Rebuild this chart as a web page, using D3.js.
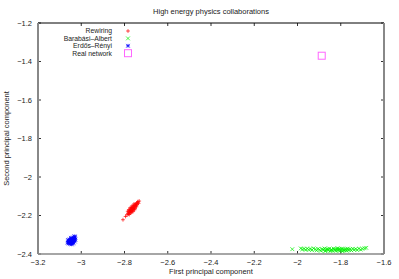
<!DOCTYPE html>
<html>
<head>
<meta charset="utf-8">
<script src="https://cdn.jsdelivr.net/npm/d3@7"></script>
<style>
  body { margin: 0; background: #fff; }
  text { font-family: "Liberation Sans", Arial, sans-serif; font-size: 7.5px; fill: #222; }
  .legend text { font-size: 6.8px; }
</style>
</head>
<body>
<script>
// Data
const xTicks = [-3.2, -3, -2.8, -2.6, -2.4, -2.2, -2, -1.8, -1.6];
const yTicks = [-1.2, -1.4, -1.6, -1.8, -2, -2.2, -2.4];
const seriesNames = ["Rewiring", "Barabási–Albert", "Erdős–Rényi", "Real network"];

const rewiring = [
  [-2.807, -2.222], [-2.795, -2.205], [-2.788, -2.196], [-2.784, -2.188], [-2.781, -2.192],
  [-2.779, -2.181], [-2.777, -2.175], [-2.775, -2.185], [-2.773, -2.170], [-2.772, -2.178],
  [-2.770, -2.165], [-2.769, -2.172], [-2.768, -2.160], [-2.767, -2.182], [-2.766, -2.168],
  [-2.764, -2.158], [-2.763, -2.175], [-2.762, -2.163], [-2.760, -2.170], [-2.759, -2.152],
  [-2.758, -2.160], [-2.757, -2.166], [-2.755, -2.148], [-2.754, -2.157], [-2.752, -2.163],
  [-2.751, -2.145], [-2.750, -2.152], [-2.748, -2.140], [-2.746, -2.148], [-2.744, -2.136],
  [-2.742, -2.143], [-2.740, -2.133], [-2.738, -2.128], [-2.735, -2.137], [-2.732, -2.125],
  [-2.778, -2.195], [-2.774, -2.160], [-2.761, -2.180], [-2.756, -2.140], [-2.771, -2.187],
  [-2.785, -2.178], [-2.753, -2.170], [-2.745, -2.155], [-2.765, -2.150], [-2.780, -2.170]
];

const barabasi = [
  [-2.024, -2.375], [-1.985, -2.371], [-1.978, -2.376], [-1.970, -2.373], [-1.962, -2.378],
  [-1.955, -2.372], [-1.948, -2.377], [-1.940, -2.374], [-1.933, -2.379], [-1.926, -2.371],
  [-1.918, -2.376], [-1.911, -2.381], [-1.905, -2.373], [-1.898, -2.378], [-1.892, -2.383],
  [-1.886, -2.374], [-1.880, -2.379], [-1.875, -2.371], [-1.869, -2.382], [-1.864, -2.376],
  [-1.858, -2.380], [-1.853, -2.373], [-1.848, -2.385], [-1.843, -2.377], [-1.838, -2.381],
  [-1.833, -2.372], [-1.828, -2.379], [-1.823, -2.384], [-1.818, -2.375], [-1.813, -2.380],
  [-1.808, -2.373], [-1.803, -2.382], [-1.798, -2.377], [-1.793, -2.385], [-1.788, -2.374],
  [-1.783, -2.380], [-1.778, -2.376], [-1.773, -2.383], [-1.768, -2.372], [-1.763, -2.379],
  [-1.757, -2.375], [-1.751, -2.381], [-1.745, -2.373], [-1.738, -2.378], [-1.731, -2.374],
  [-1.724, -2.379], [-1.716, -2.372], [-1.708, -2.377], [-1.700, -2.373], [-1.690, -2.370],
  [-1.682, -2.368], [-1.861, -2.374], [-1.845, -2.379], [-1.826, -2.376], [-1.806, -2.378],
  [-1.786, -2.381], [-1.771, -2.377], [-1.872, -2.385], [-1.815, -2.370], [-1.795, -2.372]
];

const erdos = [
  [-3.063, -2.342], [-3.060, -2.336], [-3.058, -2.345], [-3.057, -2.330], [-3.055, -2.339],
  [-3.053, -2.347], [-3.052, -2.333], [-3.050, -2.326], [-3.049, -2.341], [-3.047, -2.335],
  [-3.046, -2.322], [-3.045, -2.344], [-3.043, -2.329], [-3.042, -2.338], [-3.040, -2.318],
  [-3.039, -2.332], [-3.037, -2.325], [-3.036, -2.340], [-3.034, -2.314], [-3.033, -2.328],
  [-3.031, -2.320], [-3.030, -2.335], [-3.028, -2.312], [-3.027, -2.325], [-3.054, -2.325],
  [-3.044, -2.350], [-3.038, -2.345], [-3.048, -2.316], [-3.061, -2.328], [-3.032, -2.308]
];

const realNetwork = [[-1.888, -1.37]];

const W = 399, H = 279;
const margin = { top: 23, right: 15, bottom: 25, left: 38 };
const width = W - margin.left - margin.right;
const height = H - margin.top - margin.bottom;

const svg = d3.select("body").append("svg")
  .attr("width", W)
  .attr("height", H);

const x = d3.scaleLinear().domain([-3.2, -1.6]).range([margin.left, margin.left + width]);
const y = d3.scaleLinear().domain([-2.4, -1.2]).range([margin.top + height, margin.top]);

const fmt = d => d3.format("")(d).replace("-", "\u2212");

// tick marks (inward, on all four sides)
const tl = 3;
svg.append("g").selectAll("line").data(xTicks).enter().append("line")
  .attr("x1", d => x(d)).attr("x2", d => x(d))
  .attr("y1", y(-2.4)).attr("y2", y(-2.4) - tl)
  .attr("stroke", "#333").attr("stroke-width", 1);
svg.append("g").selectAll("line").data(xTicks).enter().append("line")
  .attr("x1", d => x(d)).attr("x2", d => x(d))
  .attr("y1", y(-1.2)).attr("y2", y(-1.2) + tl)
  .attr("stroke", "#333").attr("stroke-width", 1);
svg.append("g").selectAll("line").data(yTicks).enter().append("line")
  .attr("x1", x(-3.2)).attr("x2", x(-3.2) + tl)
  .attr("y1", d => y(d)).attr("y2", d => y(d))
  .attr("stroke", "#333").attr("stroke-width", 1);
svg.append("g").selectAll("line").data(yTicks).enter().append("line")
  .attr("x1", x(-1.6)).attr("x2", x(-1.6) - tl)
  .attr("y1", d => y(d)).attr("y2", d => y(d))
  .attr("stroke", "#333").attr("stroke-width", 1);

// border
svg.append("line").attr("x1", x(-3.2)).attr("x2", x(-1.6)).attr("y1", y(-1.2)).attr("y2", y(-1.2))
  .attr("stroke", "#000").attr("stroke-width", 1);
svg.append("line").attr("x1", x(-3.2)).attr("x2", x(-1.6)).attr("y1", y(-2.4)).attr("y2", y(-2.4))
  .attr("stroke", "#888").attr("stroke-width", 1.5);
svg.append("line").attr("x1", x(-3.2)).attr("x2", x(-3.2)).attr("y1", y(-1.2)).attr("y2", y(-2.4))
  .attr("stroke", "#888").attr("stroke-width", 2);
svg.append("line").attr("x1", x(-1.6)).attr("x2", x(-1.6)).attr("y1", y(-1.2)).attr("y2", y(-2.4))
  .attr("stroke", "#888").attr("stroke-width", 2);

// tick labels
svg.append("g").selectAll("text").data(xTicks).enter().append("text")
  .attr("x", d => x(d)).attr("y", y(-2.4) + 11)
  .attr("text-anchor", "middle")
  .text(fmt);
svg.append("g").selectAll("text").data(yTicks).enter().append("text")
  .attr("x", x(-3.2) - 6).attr("y", d => y(d) + 2.5)
  .attr("text-anchor", "end")
  .text(fmt);

// titles
svg.append("text").attr("x", 211).attr("y", 14).attr("text-anchor", "middle")
  .text("High energy physics collaborations");
svg.append("text").attr("x", 211).attr("y", 274).attr("text-anchor", "middle")
  .text("First principal component");
svg.append("text").attr("transform", `translate(9,${margin.top + height / 2}) rotate(-90)`)
  .attr("text-anchor", "middle")
  .text("Second principal component");

// marker shapes
const s = 1.9;
function plus(g, px, py, c) {
  g.append("path").attr("d", `M${px - s},${py}H${px + s}M${px},${py - s}V${py + s}`)
    .attr("stroke", c).attr("stroke-width", 0.7).attr("fill", "none");
}
function cross(g, px, py, c) {
  g.append("path").attr("d", `M${px - s},${py - s}L${px + s},${py + s}M${px - s},${py + s}L${px + s},${py - s}`)
    .attr("stroke", c).attr("stroke-width", 0.7).attr("fill", "none");
}
function star(g, px, py, c) {
  g.append("path").attr("d", `M${px - s},${py}H${px + s}M${px},${py - s}V${py + s}M${px - s},${py - s}L${px + s},${py + s}M${px - s},${py + s}L${px + s},${py - s}`)
    .attr("stroke", c).attr("stroke-width", 0.7).attr("fill", "none");
}
function square(g, px, py, c) {
  g.append("rect").attr("x", px - 3.5).attr("y", py - 3.5).attr("width", 7).attr("height", 7)
    .attr("stroke", c).attr("stroke-width", 1).attr("fill", "none");
}

const series = [
  { data: rewiring, color: "#ff0000", mark: plus },
  { data: barabasi, color: "#00f000", mark: cross },
  { data: erdos, color: "#0000ff", mark: star },
  { data: realNetwork, color: "#ff66ff", mark: square }
];

const plot = svg.append("g");
series.forEach(sr => {
  sr.data.forEach(d => sr.mark(plot, x(d[0]), y(d[1]), sr.color));
});

// legend
const legend = svg.append("g").attr("class", "legend");
seriesNames.forEach((name, i) => {
  const ly = 31 + i * 7.4;
  legend.append("text").attr("x", 112).attr("y", ly + 2.4).attr("text-anchor", "end").text(name);
  series[i].mark(legend, 128, ly, series[i].color);
});
</script>
</body>
</html>
